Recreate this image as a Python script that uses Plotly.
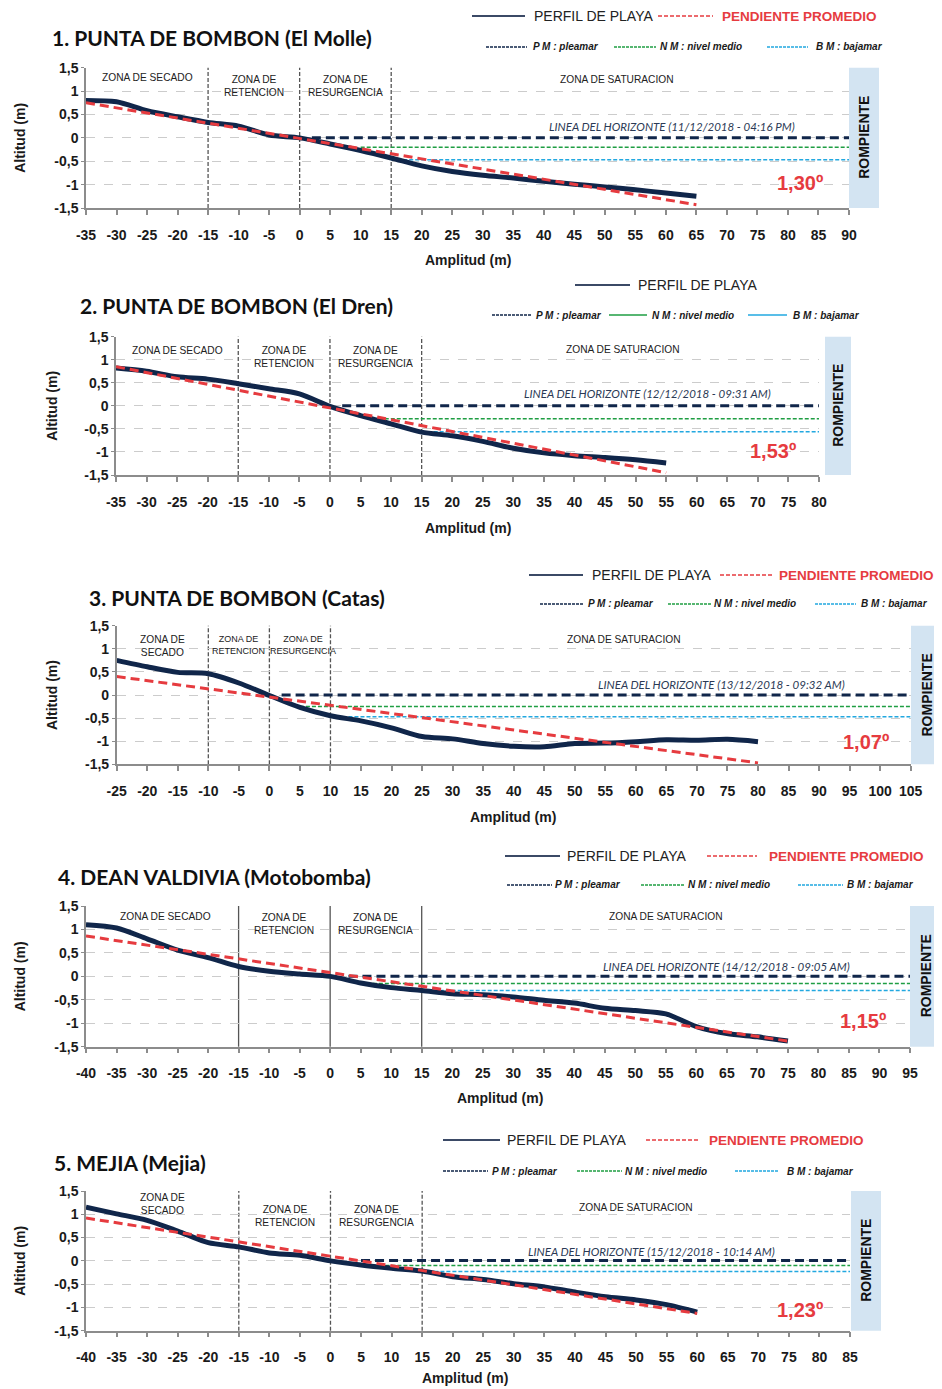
import plotly.graph_objects as go

# page is rendered with an 8px body margin; the figure fills the rest of the 942x1389 window
PAGE_W, PAGE_H = 942, 1389
OFF = 8
W, H = PAGE_W - OFF, PAGE_H - OFF

# ---------------- data ----------------
P1_TITLE = "1. PUNTA DE BOMBON (El Molle)"
P1_X = [-35, -30, -25, -20, -15, -10, -5, 0, 5, 10, 15, 20, 25, 30, 35, 40, 45, 50, 55, 60, 65]
P1_Y = [0.80, 0.77, 0.58, 0.45, 0.33, 0.25, 0.06, 0.00, -0.13, -0.27, -0.43, -0.60, -0.72, -0.80,
        -0.86, -0.93, -0.99, -1.05, -1.11, -1.18, -1.25]
P1_SLOPE_X = [-35, 65]
P1_SLOPE_Y = [0.75, -1.43]
P1_RANGE = [-35, 90]
P1_TIDE_X0 = [2, 10, 15]
P1_TIDE_Y = [0.0, -0.20, -0.47]
P1_ZONES = [-15, 0, 15]
P1_ANGLE = "1,30º"
P1_HORIZON = "LINEA DEL HORIZONTE (11/12/2018 - 04:16 PM)"

P2_TITLE = "2. PUNTA DE BOMBON (El Dren)"
P2_X = [-35, -30, -25, -20, -15, -10, -5, 0, 5, 10, 15, 20, 25, 30, 35, 40, 45, 50, 55]
P2_Y = [0.82, 0.75, 0.63, 0.58, 0.48, 0.37, 0.26, -0.01, -0.21, -0.39, -0.57, -0.65, -0.77, -0.92,
        -1.02, -1.08, -1.12, -1.17, -1.24]
P2_SLOPE_X = [-35, 55]
P2_SLOPE_Y = [0.85, -1.45]
P2_RANGE = [-35, 80]
P2_TIDE_X0 = [2, 7, 15]
P2_TIDE_Y = [0.0, -0.28, -0.56]
P2_ZONES = [-15, 0, 15]
P2_ANGLE = "1,53º"
P2_HORIZON = "LINEA DEL HORIZONTE (12/12/2018 - 09:31 AM)"

P3_TITLE = "3. PUNTA DE BOMBON (Catas)"
P3_X = [-25, -20, -15, -10, -5, 0, 5, 10, 15, 20, 25, 30, 35, 40, 45, 50, 55, 60, 65, 70, 75, 80]
P3_Y = [0.75, 0.61, 0.49, 0.46, 0.26, -0.01, -0.27, -0.45, -0.56, -0.71, -0.90, -0.95, -1.05, -1.11,
        -1.12, -1.05, -1.04, -1.01, -0.97, -0.98, -0.96, -1.01]
P3_SLOPE_X = [-25, 80]
P3_SLOPE_Y = [0.40, -1.47]
P3_RANGE = [-25, 105]
P3_TIDE_X0 = [2, 5, 10]
P3_TIDE_Y = [0.0, -0.25, -0.47]
P3_ZONES = [-10, 0, 10]
P3_ANGLE = "1,07º"
P3_HORIZON = "LINEA DEL HORIZONTE (13/12/2018 - 09:32 AM)"

P4_TITLE = "4. DEAN VALDIVIA (Motobomba)"
P4_X = [-40, -35, -30, -25, -20, -15, -10, -5, 0, 5, 10, 15, 20, 25, 30, 35, 40, 45, 50, 55, 60,
        65, 70, 75]
P4_Y = [1.10, 1.03, 0.80, 0.56, 0.40, 0.21, 0.11, 0.05, 0.00, -0.14, -0.24, -0.30, -0.37, -0.39,
        -0.44, -0.51, -0.57, -0.68, -0.73, -0.80, -1.07, -1.22, -1.29, -1.38]
P4_SLOPE_X = [-40, 75]
P4_SLOPE_Y = [0.86, -1.38]
P4_RANGE = [-40, 95]
P4_TIDE_X0 = [3, 7, 15]
P4_TIDE_Y = [0.0, -0.15, -0.30]
P4_ZONES = [-15, 0, 15]
P4_ANGLE = "1,15º"
P4_HORIZON = "LINEA DEL HORIZONTE (14/12/2018 - 09:05 AM)"

P5_TITLE = "5. MEJIA (Mejia)"
P5_X = [-40, -35, -30, -25, -20, -15, -10, -5, 0, 5, 10, 15, 20, 25, 30, 35, 40, 45, 50, 55, 60]
P5_Y = [1.15, 1.01, 0.87, 0.64, 0.39, 0.30, 0.17, 0.12, 0.00, -0.09, -0.16, -0.22, -0.34, -0.40,
        -0.49, -0.56, -0.67, -0.77, -0.84, -0.94, -1.10]
P5_SLOPE_X = [-40, 60]
P5_SLOPE_Y = [0.92, -1.13]
P5_RANGE = [-40, 85]
P5_TIDE_X0 = [5, 8, 17]
P5_TIDE_Y = [0.01, -0.10, -0.23]
P5_ZONES = [-15, 0, 15]
P5_ANGLE = "1,23º"
P5_HORIZON = "LINEA DEL HORIZONTE (15/12/2018 - 10:14 AM)"

Y_TICKS = [-1.5, -1, -0.5, 0, 0.5, 1, 1.5]
Y_TICK_TEXT = ["-1,5", "-1", "-0,5", "0", "0,5", "1", "1,5"]

# ---------------- layout (pixel geometry) ----------------
NAVY = "#10264a"
RED = "#e63b3f"
GREEN = "#1f9e43"
CYAN = "#22a8e0"
AXC = "#8c8c8c"
ZONEC = "#555555"
TXT = "#1a1a1a"
ZS = 10.2

panels = [
    dict(title=P1_TITLE, x=P1_X, y=P1_Y, sx=P1_SLOPE_X, sy=P1_SLOPE_Y, rng=P1_RANGE,
         tx0=P1_TIDE_X0, ty=P1_TIDE_Y, zones=P1_ZONES, angle=P1_ANGLE, horizon=P1_HORIZON,
         box=(86, 849, 67.7, 208), romp=(849, 879), title_pos=(50, 37), ytitle_x=20,
         xtitle=(468, 260), zone_solid=False,
         zone_txt=[(-25, 1.29, "ZONA DE SECADO", ZS), (-7.5, 1.11, "ZONA DE<br>RETENCION", ZS),
                   (7.5, 1.11, "ZONA DE<br>RESURGENCIA", ZS), (52, 1.24, "ZONA DE SATURACION", ZS)],
         horizon_pos=(61, 0.25), angle_pos=(82, -0.97),
         leg1=dict(y=16, line=(472, 525), t1=532, dash=(658, 713), t2=720),
         leg2=dict(y=47, pm=(486, 527, 531), nm=(614, 656, 658), bm=(767, 808, 814), solid=False)),
    dict(title=P2_TITLE, x=P2_X, y=P2_Y, sx=P2_SLOPE_X, sy=P2_SLOPE_Y, rng=P2_RANGE,
         tx0=P2_TIDE_X0, ty=P2_TIDE_Y, zones=P2_ZONES, angle=P2_ANGLE, horizon=P2_HORIZON,
         box=(116, 819, 336.7, 475), romp=(825, 851), title_pos=(78, 306), ytitle_x=52,
         xtitle=(468, 528), zone_solid=False,
         zone_txt=[(-25, 1.21, "ZONA DE SECADO", ZS), (-7.5, 1.05, "ZONA DE<br>RETENCION", ZS),
                   (7.5, 1.05, "ZONA DE<br>RESURGENCIA", ZS), (48, 1.23, "ZONA DE SATURACION", ZS)],
         horizon_pos=(52, 0.26), angle_pos=(72.5, -0.97),
         leg1=dict(y=285, line=(575, 630), t1=636, dash=None, t2=None),
         leg2=dict(y=315, pm=(492, 532, 534), nm=(609, 647, 650), bm=(748, 787, 791), solid=True)),
    dict(title=P3_TITLE, x=P3_X, y=P3_Y, sx=P3_SLOPE_X, sy=P3_SLOPE_Y, rng=P3_RANGE,
         tx0=P3_TIDE_X0, ty=P3_TIDE_Y, zones=P3_ZONES, angle=P3_ANGLE, horizon=P3_HORIZON,
         box=(116.7, 910.7, 625.7, 764.3), romp=(911, 942), title_pos=(87, 597), ytitle_x=52,
         xtitle=(513, 817), zone_solid=False,
         zone_txt=[(-17.5, 1.05, "ZONA DE<br>SECADO", ZS), (-5, 1.08, "ZONA DE<br>RETENCION", 9),
                   (5.5, 1.08, "ZONA DE<br>RESURGENCIA", 9), (58, 1.2, "ZONA DE SATURACION", ZS)],
         horizon_pos=(74, 0.23), angle_pos=(97.7, -1.02),
         leg1=dict(y=575, line=(529, 583), t1=590, dash=(720, 773), t2=777),
         leg2=dict(y=604, pm=(540, 583, 586), nm=(668, 711, 712), bm=(815, 856, 859), solid=False)),
    dict(title=P4_TITLE, x=P4_X, y=P4_Y, sx=P4_SLOPE_X, sy=P4_SLOPE_Y, rng=P4_RANGE,
         tx0=P4_TIDE_X0, ty=P4_TIDE_Y, zones=P4_ZONES, angle=P4_ANGLE, horizon=P4_HORIZON,
         box=(86, 910, 906, 1046.7), romp=(910, 942), title_pos=(56, 876), ytitle_x=20,
         xtitle=(500, 1098), zone_solid=True,
         zone_txt=[(-27, 1.27, "ZONA DE SECADO", ZS), (-7.5, 1.11, "ZONA DE<br>RETENCION", ZS),
                   (7.5, 1.11, "ZONA DE<br>RESURGENCIA", ZS), (55, 1.28, "ZONA DE SATURACION", ZS)],
         horizon_pos=(65, 0.21), angle_pos=(87.3, -0.95),
         leg1=dict(y=856, line=(505, 560), t1=565, dash=(707, 757), t2=767),
         leg2=dict(y=885, pm=(507, 552, 553), nm=(641, 685, 686), bm=(798, 843, 845), solid=False)),
    dict(title=P5_TITLE, x=P5_X, y=P5_Y, sx=P5_SLOPE_X, sy=P5_SLOPE_Y, rng=P5_RANGE,
         tx0=P5_TIDE_X0, ty=P5_TIDE_Y, zones=P5_ZONES, angle=P5_ANGLE, horizon=P5_HORIZON,
         box=(86, 850, 1191, 1330.7), romp=(851, 881), title_pos=(52, 1162), ytitle_x=20,
         xtitle=(465, 1378), zone_solid=False,
         zone_txt=[(-27.5, 1.22, "ZONA DE<br>SECADO", ZS), (-7.5, 0.96, "ZONA DE<br>RETENCION", ZS),
                   (7.5, 0.96, "ZONA DE<br>RESURGENCIA", ZS), (50, 1.15, "ZONA DE SATURACION", ZS)],
         horizon_pos=(52.6, 0.21), angle_pos=(76.8, -1.05),
         leg1=dict(y=1140, line=(443, 500), t1=505, dash=(646, 700), t2=707),
         leg2=dict(y=1171, pm=(443, 488, 490), nm=(577, 622, 623), bm=(735, 778, 785), solid=False)),
]


def fx(px):
    return (px - OFF) / W


def fy(py):
    return 1 - (py - OFF) / H


ARIAL = "Liberation Sans, Arial, sans-serif"
TITLEF = "Lato, Open Sans, sans-serif"

fig = go.Figure()
shapes = []
annotations = []
layout_axes = {}

for i, p in enumerate(panels, start=1):
    sfx = "" if i == 1 else str(i)
    xa = "x" + sfx
    ya = "y" + sfx
    xl, xr, yt, yb = p["box"]
    x0r, x1r = p["rng"]
    xt_vals = list(range(x0r, x1r + 1, 5))

    layout_axes["xaxis" + sfx] = dict(
        domain=[fx(xl), min(fx(xr), 1.0)], range=[x0r, x1r], anchor=ya, automargin=False,
        tickvals=xt_vals, ticktext=[str(v) for v in xt_vals],
        ticks="outside", ticklen=5, tickwidth=1.5,
        tickcolor=AXC, showline=True, linecolor=AXC, linewidth=1.5, showgrid=False,
        zeroline=False, tickfont=dict(family=ARIAL, size=14, color=TXT, weight="bold"),
        ticklabelstandoff=8, fixedrange=True,
    )
    layout_axes["yaxis" + sfx] = dict(
        domain=[fy(yb), fy(yt)], range=[-1.5, 1.5], anchor=xa, automargin=False,
        tickvals=Y_TICKS, ticktext=Y_TICK_TEXT, ticks="outside", ticklen=3, tickcolor=AXC,
        showline=True, linecolor=AXC, linewidth=1.5, showgrid=True, gridcolor="#cccccc",
        griddash="dash", gridwidth=1, zeroline=False,
        tickfont=dict(family=ARIAL, size=14, color=TXT, weight="bold"), fixedrange=True,
    )

    # tide level lines
    tide_styles = [(NAVY, 3, "9px,5px"), (GREEN, 1.5, "4px,2px"), (CYAN, 1.5, "4px,2px")]
    for (c, w, d), tx0, tyv in zip(tide_styles, p["tx0"], p["ty"]):
        fig.add_trace(go.Scatter(x=[tx0, x1r], y=[tyv, tyv], mode="lines", xaxis=xa, yaxis=ya,
                                 line=dict(color=c, width=w, dash=d), showlegend=False,
                                 hoverinfo="skip"))

    # beach profile
    fig.add_trace(go.Scatter(x=p["x"], y=p["y"], mode="lines", xaxis=xa, yaxis=ya,
                             line=dict(color=NAVY, width=5, shape="spline", smoothing=0.8),
                             showlegend=False, name="PERFIL DE PLAYA"))
    # average slope
    fig.add_trace(go.Scatter(x=p["sx"], y=p["sy"], mode="lines", xaxis=xa, yaxis=ya,
                             line=dict(color=RED, width=3, dash="9px,5px"),
                             showlegend=False, name="PENDIENTE PROMEDIO"))

    # zone boundaries
    for zx in p["zones"]:
        shapes.append(dict(type="line", xref=xa, yref=f"{ya} domain", x0=zx, x1=zx, y0=0, y1=1,
                           line=dict(color=ZONEC, width=1.3,
                                     dash="solid" if p["zone_solid"] else "4px,2px"),
                           layer="below"))

    # rompiente box
    rl, rr = p["romp"]
    shapes.append(dict(type="rect", xref="paper", yref="paper", x0=fx(rl), x1=min(fx(rr), 1.0),
                       y0=fy(yb), y1=fy(yt), fillcolor="#d3e4f2", line=dict(width=0),
                       layer="below"))
    annotations.append(dict(xref="paper", yref="paper", x=fx((rl + rr) / 2),
                            y=fy((yt + yb) / 2), text="<b>ROMPIENTE</b>", textangle=-90,
                            showarrow=False, font=dict(family=ARIAL, size=14, color="#111111"),
                            xanchor="center", yanchor="middle"))

    # zone texts
    for zx, zy, zt, zs in p["zone_txt"]:
        annotations.append(dict(xref=xa, yref=ya, x=zx, y=zy, text=zt, showarrow=False,
                                font=dict(family=ARIAL, size=zs, color="#222222"),
                                xanchor="center", yanchor="middle"))
    hx, hy = p["horizon_pos"]
    annotations.append(dict(xref=xa, yref=ya, x=hx, y=hy, text=f"<i>{p['horizon']}</i>",
                            showarrow=False, font=dict(family=TITLEF, size=11.5, color="#2b3a55"),
                            xanchor="center", yanchor="middle"))
    axp, ayp = p["angle_pos"]
    annotations.append(dict(xref=xa, yref=ya, x=axp, y=ayp, text=f"<b>{p['angle']}</b>",
                            showarrow=False, font=dict(family=ARIAL, size=20, color=RED),
                            xanchor="center", yanchor="middle"))

    # titles / axis titles
    tx, ty = p["title_pos"]
    annotations.append(dict(xref="paper", yref="paper", x=fx(tx), y=fy(ty),
                            text=f"<b>{p['title']}</b>", showarrow=False,
                            font=dict(family=TITLEF, size=21, color="#111111"),
                            xanchor="left", yanchor="middle"))
    annotations.append(dict(xref="paper", yref="paper", x=fx(p["ytitle_x"]),
                            y=fy((yt + yb) / 2), text="<b>Altitud (m)</b>", textangle=-90,
                            showarrow=False, font=dict(family=ARIAL, size=14, color=TXT),
                            xanchor="center", yanchor="middle"))
    xtx, xty = p["xtitle"]
    annotations.append(dict(xref="paper", yref="paper", x=fx(xtx), y=fy(xty),
                            text="<b>Amplitud (m)</b>", showarrow=False,
                            font=dict(family=ARIAL, size=14, color=TXT),
                            xanchor="center", yanchor="middle"))

    # legend row 1
    l1 = p["leg1"]
    shapes.append(dict(type="line", xref="paper", yref="paper", x0=fx(l1["line"][0]),
                       x1=fx(l1["line"][1]), y0=fy(l1["y"]), y1=fy(l1["y"]),
                       line=dict(color="#3b4a66", width=2)))
    annotations.append(dict(xref="paper", yref="paper", x=fx(l1["t1"]), y=fy(l1["y"]),
                            text="PERFIL DE PLAYA", showarrow=False,
                            font=dict(family=ARIAL, size=14, color="#222222"),
                            xanchor="left", yanchor="middle"))
    if l1["dash"]:
        shapes.append(dict(type="line", xref="paper", yref="paper", x0=fx(l1["dash"][0]),
                           x1=fx(l1["dash"][1]), y0=fy(l1["y"]), y1=fy(l1["y"]),
                           line=dict(color=RED, width=1.3, dash="4px,2px")))
        annotations.append(dict(xref="paper", yref="paper", x=fx(l1["t2"]), y=fy(l1["y"]),
                                text="<b>PENDIENTE PROMEDIO</b>", showarrow=False,
                                font=dict(family=ARIAL, size=13.5, color=RED),
                                xanchor="left", yanchor="middle"))
    # legend row 2
    l2 = p["leg2"]
    for key, c, label in [("pm", NAVY, "P M : pleamar"), ("nm", GREEN, "N M : nivel medio"),
                          ("bm", CYAN, "B M : bajamar")]:
        a, b, t = l2[key]
        dash = "3px,1px" if key == "pm" else ("solid" if l2["solid"] else "3px,1px")
        shapes.append(dict(type="line", xref="paper", yref="paper", x0=fx(a), x1=fx(b),
                           y0=fy(l2["y"]), y1=fy(l2["y"]),
                           line=dict(color=c, width=1.5, dash=dash)))
        annotations.append(dict(xref="paper", yref="paper", x=fx(t), y=fy(l2["y"]),
                                text=f"<b><i>{label}</i></b>", showarrow=False,
                                font=dict(family=ARIAL, size=10, color="#1a1a1a"),
                                xanchor="left", yanchor="middle"))

fig.update_layout(
    width=W, height=H, autosize=False,
    margin=dict(l=0, r=0, t=0, b=0, autoexpand=False),
    paper_bgcolor="white", plot_bgcolor="white",
    showlegend=False,
    shapes=shapes, annotations=annotations,
    **layout_axes,
)

fig.write_html("out.html")
